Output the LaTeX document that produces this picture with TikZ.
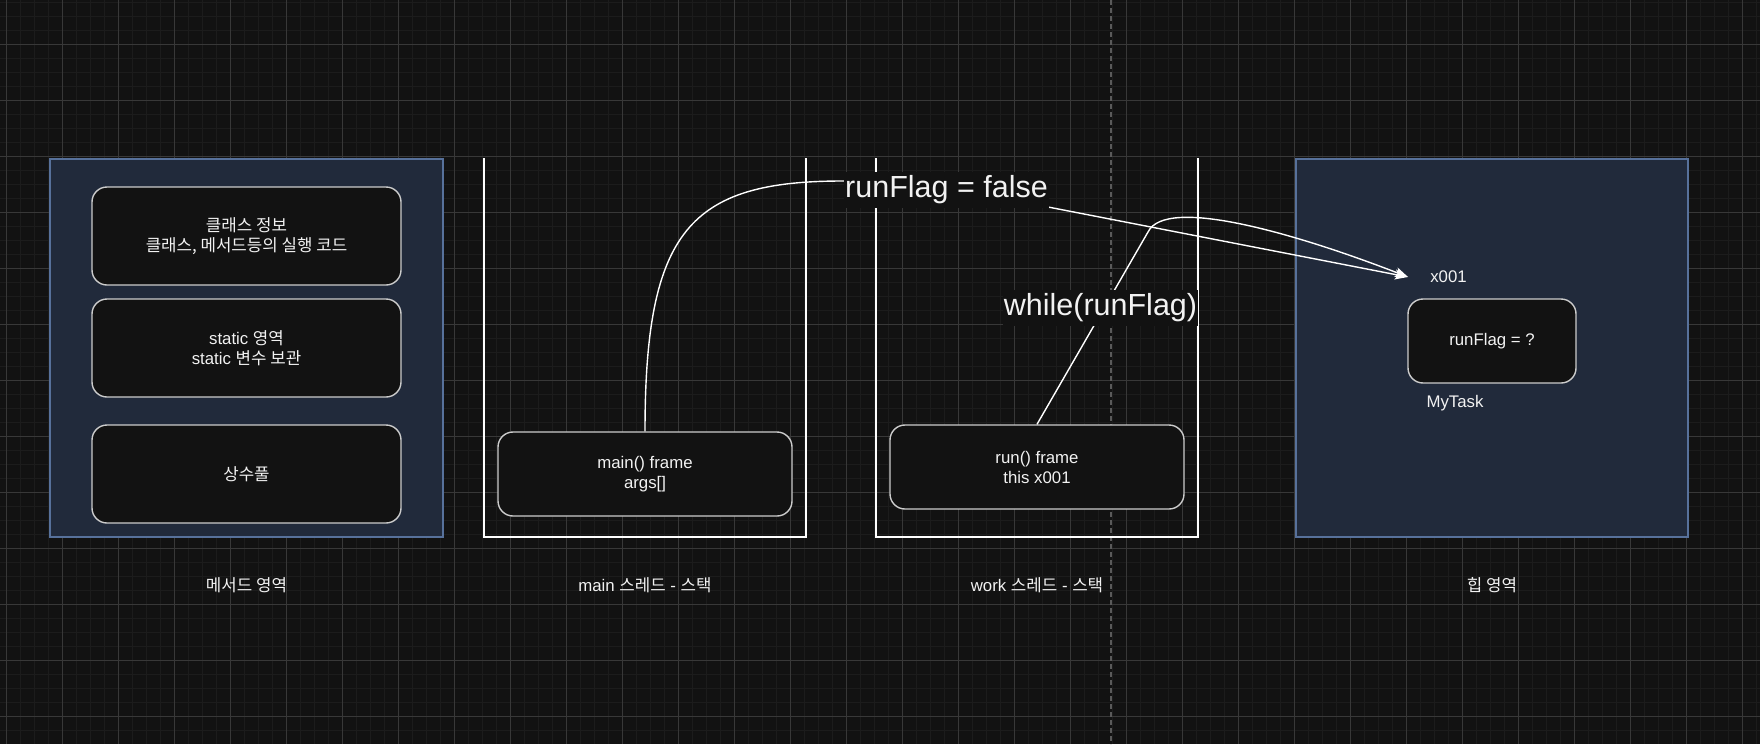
\documentclass[tikz,border=0pt]{standalone}
\usepackage{fontspec}
\setmainfont{Liberation Sans}
\newfontfamily\kr{Noto Sans CJK KR}
\usetikzlibrary{arrows.meta}
\newcommand\K[1]{{\kr #1}}
\definecolor{bg}{HTML}{121212}
\definecolor{gminor}{HTML}{1C1C1C}
\definecolor{gmajor}{HTML}{383838}
\definecolor{pagebrk}{HTML}{5A5A5A}
\definecolor{areafill}{HTML}{212A3B}
\definecolor{areastroke}{HTML}{57719B}
\definecolor{boxstroke}{HTML}{CCCCCC}
\definecolor{txt}{HTML}{F2F2F2}
\tikzset{
  area/.style={draw=areastroke, fill=areafill, line width=1.4pt, inner sep=0pt, minimum width=392pt, minimum height=378pt},
  mbox/.style={draw=boxstroke, fill=bg, rounded corners=15pt, line width=1.4pt, align=center, text=txt,
     font=\fontsize{16.8}{20}\selectfont, inner sep=0pt},
  lbl/.style={text=txt, font=\fontsize{16.8}{20}\selectfont, align=center, inner sep=0pt},
  biglbl/.style={fill=bg, text=txt, font=\fontsize{30.5}{36}\selectfont, inner xsep=1pt, inner ysep=0pt, minimum height=36pt},
  stackline/.style={draw=white, line width=1.3pt},
  edgeline/.style={draw=white, line width=1.4pt},
  tipend/.style={-{Stealth[length=13pt,width=10pt,inset=3pt]}},
  gridline/.style={line width=1pt},
}
\begin{document}
\begin{tikzpicture}[x=1pt,y=-1pt]
\fill[bg] (0,0) rectangle (1760,744);
\useasboundingbox (0,0) rectangle (1760,744);
% grid
\foreach \x in {6.5,20.5,...,1760} \draw[gminor, gridline] (\x,0) -- (\x,744);
\foreach \y in {2.5,16.5,...,744} \draw[gminor, gridline] (0,\y) -- (1760,\y);
\foreach \x in {6.5,62.5,...,1760} \draw[gmajor, gridline] (\x,0) -- (\x,744);
\foreach \y in {44.5,100.5,...,744} \draw[gmajor, gridline] (0,\y) -- (1760,\y);
% page break line
\draw[pagebrk, line width=1.4pt, dash pattern=on 5pt off 3pt] (1111,0) -- (1111,744);

% method area
\node[area, minimum width=393pt] (ma) at (246.5,348) {};
\node[mbox, minimum width=309pt, minimum height=98pt] (cls) at (246.5,236)
  {\K{클래스 정보}\\\K{클래스, 메서드등의 실행 코드}};
\node[mbox, minimum width=309pt, minimum height=98pt] (stat) at (246.5,348)
  {static \K{영역}\\static \K{변수 보관}};
\node[mbox, minimum width=309pt, minimum height=98pt] (pool) at (246.5,474)
  {\K{상수풀}};
\node[lbl] (malbl) at (246.5,585) {\K{메서드 영역}};

% main stack
\draw[stackline] (484,158) -- (484,537) -- (806,537) -- (806,158);
\node[mbox, minimum width=294pt, minimum height=84pt] (mainf) at (645,474)
  {main() frame\\args[]};
\node[lbl] (mainlbl) at (645,585) {main \K{스레드} - \K{스택}};

% work stack
\draw[stackline] (876,158) -- (876,537) -- (1198,537) -- (1198,158);
\node[mbox, minimum width=294pt, minimum height=84pt] (runf) at (1037,467)
  {run() frame\\this x001};
\node[lbl] (worklbl) at (1037,585) {work \K{스레드} - \K{스택}};

% heap
\node[area] (heap) at (1492,348) {};
\node[mbox, minimum width=168pt, minimum height=84pt] (task) at (1492,341) {runFlag = ?};
\node[lbl] (addr) at (1448.5,277) {x001};
\node[lbl] (mytask) at (1455,403) {MyTask};
\node[lbl] (heaplbl) at (1492,585) {\K{힙 영역}};
\coordinate (tgt) at (1408,277);

% edges
\draw[edgeline, tipend] (mainf.north) .. controls (645,230) and (690,181) .. (843,181)
   .. controls (930,181) and (960,190) .. (1048,207) -- (tgt);
\draw[edgeline, tipend] (runf.north) -- (1148,232) .. controls (1166,195) and (1300,235) .. (tgt);

% edge labels
\node[biglbl] (setlbl) at (946.5,190) {runFlag = false};
\node[biglbl] (whilelbl) at (1100.5,307.5) {while(runFlag)};
\end{tikzpicture}
\end{document}
